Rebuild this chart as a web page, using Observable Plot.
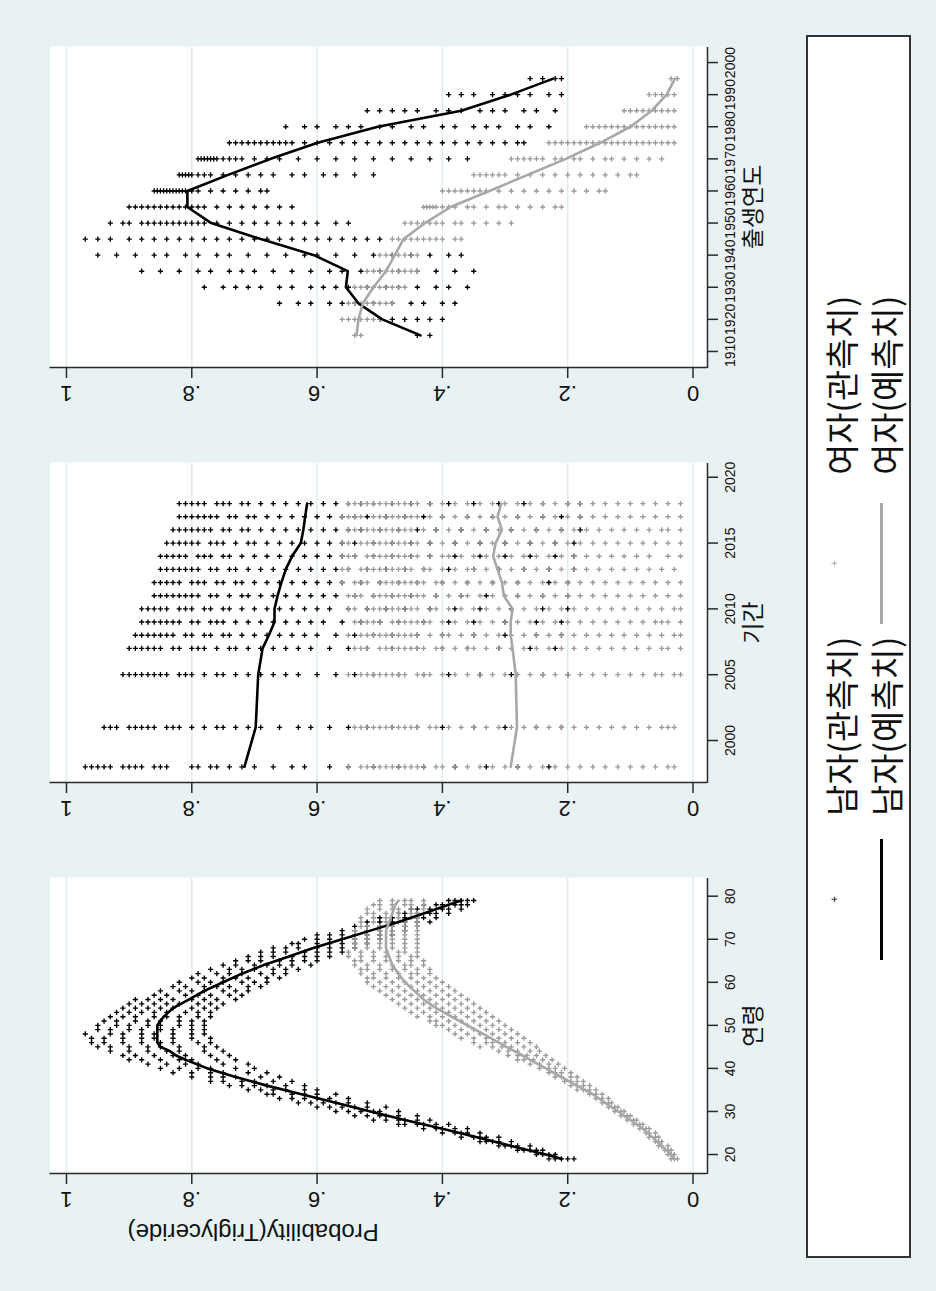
<!DOCTYPE html>
<html><head><meta charset="utf-8">
<script src="https://cdn.jsdelivr.net/npm/d3@7"></script>
<script src="https://cdn.jsdelivr.net/npm/@observablehq/plot@0.6"></script>
<style>
html,body{margin:0;padding:0;background:#e8f1f3;}
#page{position:relative;width:936px;height:1291px;overflow:hidden;background:#e8f1f3;}
#graph{position:absolute;left:0;top:0;width:1291px;height:936px;transform-origin:0 0;transform:translate(0px,1291px) rotate(-90deg);}
.panel{position:absolute;top:0;}
#legend{position:absolute;left:33px;top:806px;width:1223px;height:105px;box-sizing:border-box;border:2px solid #333;background:#fff;font-family:"Noto Sans CJK KR",sans-serif;}
.lg-text{position:absolute;font-size:34px;line-height:34px;color:#111;white-space:nowrap;}
.lg-line{position:absolute;height:3px;}
.lg-mark{position:absolute;font-family:"DejaVu Sans",sans-serif;font-size:9px;line-height:9px;}
</style></head>
<body><div id="page"><div id="graph"><div id="legend"></div></div></div>
<script>
// ---------------- data ----------------
const probTicks = [0, 0.2, 0.4, 0.6, 0.8, 1];
const probTickLabels = ["0", ".2", ".4", ".6", ".8", "1"];
const yTitle = "Probability(Triglyceride)";
const axisTitles = ["연령", "기간", "출생연도"];
const legendLabels = ["남자(관측치)", "여자(관측치)", "남자(예측치)", "여자(예측치)"];

// Age panel
const ageTicks = [20, 30, 40, 50, 60, 70, 80];
const ageList = [19,20,21,22,23,24,25,26,27,28,29,30,31,32,33,34,35,36,37,38,39,40,41,42,43,44,45,46,47,48,49,
  50,51,52,53,54,55,56,57,58,59,60,61,62,63,64,65,66,67,68,69,70,71,72,73,74,75,76,77,78,79];
const ageMenObsPct = [
  [19,20,21,22,23],[22,23,24,25],[24,25,26,27,28],[26,28,29,30,31],[29,31,32,33,34],[31,33,34,35,37],
  [34,36,37,38,40],[36,38,40,41,43],[39,41,43,44,46,47],[42,44,46,47,49,51],[44,47,49,50,52,54],
  [47,50,51,53,55,57],[49,52,54,56,58,60],[52,55,57,59,61,63],[55,58,60,62,64,66],[57,60,62,64,67,68],
  [60,62,65,67,69,71],[62,65,68,70,72,74],[64,67,70,72,75,77],[66,69,73,75,77,80],[68,71,75,77,80,83],
  [70,73,77,79,82,85],[71,75,79,81,84,87],[73,76,80,82,85,88,90],[74,77,81,83,86,89,91],[75,78,82,84,87,90,93],
  [76,78,82,85,87,90,93,95],[77,79,83,85,88,91,94,96],[77,80,83,86,88,91,94,96],[78,80,83,86,88,91,93,97],
  [78,80,83,85,88,90,93,95],[78,80,82,85,87,90,92,95],[78,80,82,85,87,89,92,94],[77,79,82,84,86,89,91,93],
  [77,79,81,84,86,88,90,92],[76,78,80,83,85,87,89,91],[75,77,79,82,84,86,88,90],[73,76,78,80,83,85,87,89],
  [72,74,77,79,81,84,86],[71,73,75,78,80,82,85],[69,71,74,76,78,81,83],[68,70,72,75,77,79,82],
  [66,68,71,73,75,78,80],[65,67,69,72,74,76,79],[63,65,67,70,72,74,77],[61,64,66,68,70,73,75],
  [60,62,64,66,69,71,73],[58,60,62,64,67,69,71],[56,58,60,62,65,67,69],[54,56,58,60,63,65,67],
  [52,54,56,58,60,63,64],[50,52,54,56,58,60,62],[48,50,52,54,56,58,60],[46,48,50,52,54,56],
  [44,46,48,50,52,54],[42,44,46,48,50,52],[41,43,44,46,48,50],[39,41,42,44,46,47],[37,39,40,42,44,45],
  [36,37,38,40,41,43],[35,36,37,38,39]
];
const ageWomenObsPct = [
  [2.5,3,3.5],[3,3.5,4],[3.5,4,4.5],[4,5,5.5],[5,5.5,6],[5.5,6,7],[6,7,7.5],[7,7.5,8.5],[8,8.5,9.5],[9,9.5,10.5],
  [10,10.5,11.5],[11,11.5,12.5],[12,12.5,13.5],[13,13.5,14.5],[13.5,14.5,15.5],[14.5,15.5,16.5],
  [15.5,16.5,17.5,18.5],[16.5,17.5,18.5,19.5],[17.5,18.5,19.5,20.5],[18.5,19.5,21,22],[19.5,21,22,23],
  [20.5,22,23,24.5],[21.5,23,24.5,26],[22.5,24,25.5,27,28],[23.5,25,26.5,28,29.5],[24.5,26,28,29.5,31],
  [25,27,29,30.5,32,34],[26,28,30,32,33,35],[27,29,31,33,35,37],[28,30,32,34,36,38],[29,31,33,35,37,39],
  [30,32,34,36,38,40,41],[31,33,35,37,39,41,42],[32,34,36,38,40,42,44],[33,35,37,39,41,43,45],
  [34,36,38,40,42,44,46],[35,37,39,41,43,45,47],[36,38,40,42,44,46,48],[37,39,41,43,45,47,49],
  [38,40,42,44,46,48,50],[39,41,43,45,47,49,51],[40,42,44,46,48,50,52],[41,43,45,47,49,51,52],
  [42,44,45,47,49,51,53],[42,44,46,48,50,52,53],[43,45,46,48,50,52,54],[43,45,47,49,51,53,54],
  [44,45,47,49,51,53,55],[44,46,47,49,51,53,55],[44,46,48,50,52,54],[44,46,48,50,52,54],[44,46,48,50,52,54],
  [44,46,48,50,52,54],[44,46,48,50,52,54],[44,46,48,50,52,53],[44,46,47,49,51,53],[44,45,47,49,51,53],
  [44,45,47,49,51,52],[43,45,47,48,50,52],[43,45,46,48,50,51],[43,45,46,48,50]
];
const ageFitAges = [19,20,22,24,26,28,30,32,34,36,38,40,42,43,44,45,46,48,50,52,54,56,58,60,62,64,66,68,70,72,74,76,78,79];
const ageMenFitPct = [21,23.5,29,34.5,40,46,51.5,57,62.5,68,73,77.5,81,82.5,83.5,85,85.5,85.5,85.5,84.5,83,80.5,78,75,72,68.5,64.5,60.5,56,51.5,47,43,39,37];
const ageWomenFitPct = [3,3.5,5,6.5,8,10,12,14,16,18.5,21,23.5,26,27.2,28.5,29.8,31,33.5,36,38.5,41,43,44.5,46,47,48,48.5,49,49,49,48.5,48,47.5,47];

// Period panel
const periodTicks = [2000, 2005, 2010, 2015, 2020];
const periodYears = [1998,2001,2005,2007,2008,2009,2010,2011,2012,2013,2014,2015,2016,2017,2018];
const periodMenObsPct = [
  [97,96,95,94,93,91,90,89,88,86,85,84,80,79,77,76,74,72,70,67,64,62,58,55,51,47,43,38,33,28,23],
  [94,93,92,90,89,88,87,86,84,83,82,80,78,76,75,73,71,69,66,63,61,58,55,52,48,44,40,35,30,25,21],
  [91,90,89,88,87,86,85,84,82,81,80,78,76,75,73,71,69,67,65,63,60,57,54,51,47,43,39,34,29,24,20],
  [90,89,88,87,86,85,83,82,80,79,78,76,74,73,71,69,67,65,63,61,58,55,52,48,44,40,36,31,26,22],
  [89,88,87,86,85,84,83,81,80,78,77,75,74,72,70,68,66,64,62,60,57,54,51,48,44,40,35,30,25,21],
  [88,87,86,85,84,83,82,80,79,77,76,75,73,71,69,67,65,63,61,59,56,53,50,47,43,39,35,30,25,21],
  [88,87,86,85,84,82,81,80,78,77,75,74,72,70,68,66,64,62,60,58,55,52,49,46,42,38,34,29,24,20],
  [86,85,84,83,82,81,80,79,77,76,74,72,71,69,67,65,63,61,59,57,54,51,48,45,41,37,33,28,24,20],
  [86,85,84,83,82,80,79,78,76,75,73,72,70,68,66,64,62,60,58,56,53,50,47,44,40,36,32,28,23,20],
  [85,84,83,82,81,80,79,77,76,74,73,71,69,67,65,63,61,59,57,55,52,49,46,43,39,35,31,27,23,19],
  [85,84,83,82,81,79,78,77,75,74,72,70,68,66,64,62,60,58,56,54,51,48,45,42,38,34,30,26,22,19],
  [84,83,82,81,80,79,77,76,75,73,71,70,68,66,64,62,60,58,56,54,51,48,45,42,38,34,30,26,22,19],
  [83,82,81,80,79,78,77,75,74,72,71,69,67,65,63,61,59,57,55,53,50,47,44,41,37,33,29,25,21,18],
  [82,81,80,79,78,77,76,74,73,71,70,68,66,64,62,60,58,56,54,52,49,46,43,40,36,32,28,24,21,18],
  [82,81,80,79,78,76,75,74,72,71,69,67,65,63,61,59,57,55,53,51,48,45,42,39,35,31,27,24,20,18]
];
const periodWomenObsPct = [
  [55,53,52,51,50,49,48,47,46,45,44,43,41,40,38,36,34,32,30,28,26,24,22,20,18,16,14,12,10,8,6,4,3],
  [54,53,52,51,50,49,48,47,46,45,44,42,41,39,37,35,33,31,29,27,25,23,21,19,17,15,13,11,9,7,5,4,3],
  [55,53,52,51,50,49,48,47,46,44,43,42,40,38,36,34,32,30,28,26,24,22,20,18,16,14,12,10,8,6,5,3,2],
  [54,53,52,50,49,48,47,46,45,44,43,41,40,38,36,35,33,31,29,27,25,23,21,19,17,15,13,11,9,7,5,4,2],
  [55,53,52,51,50,49,48,47,46,45,44,42,40,39,37,35,33,31,29,27,25,23,21,19,17,15,13,11,9,7,5,3,2],
  [54,53,52,51,50,48,47,46,45,44,43,42,40,38,36,34,32,30,28,26,24,22,20,18,16,14,12,10,8,6,5,4,2],
  [55,54,52,51,50,49,48,47,46,45,44,42,41,39,37,35,33,31,29,27,25,23,21,19,17,15,13,11,9,7,5,3,2],
  [55,54,53,51,50,49,48,47,46,45,44,43,41,39,37,36,34,32,30,28,26,24,22,20,18,16,14,12,10,8,6,4,2],
  [56,54,53,52,50,49,48,47,46,45,44,43,41,40,38,36,34,32,30,28,26,24,22,20,18,16,14,12,10,8,6,4,2],
  [56,55,53,52,51,50,49,48,47,46,45,43,42,40,38,36,35,33,31,29,27,25,23,21,19,17,15,13,11,9,7,5,3],
  [56,55,54,52,51,50,49,48,47,46,45,44,42,40,39,37,35,33,31,29,27,25,23,21,19,17,15,13,11,9,7,4,2],
  [56,55,53,52,51,50,49,48,47,46,45,44,42,40,38,36,34,32,30,28,26,24,22,20,18,16,14,12,10,8,6,4,2],
  [55,54,53,52,51,50,49,48,47,46,45,43,41,39,37,35,33,31,29,27,25,23,21,19,17,15,13,11,9,7,5,4,2],
  [56,55,54,53,51,50,49,48,47,46,45,44,42,40,38,36,34,32,30,28,26,24,22,20,18,16,14,12,10,8,6,4,2],
  [55,54,53,52,51,50,49,48,47,46,45,44,42,40,38,36,34,32,30,28,26,24,22,20,18,16,14,12,10,8,6,4,2]
];
const periodMenFitPct = [71.6,69.8,69.4,68.7,67.7,66.8,66.8,66.3,65.7,65,64,62.6,62.2,61.9,61.6];
const periodWomenFitPct = [29.1,28.1,28.3,28.8,29.1,29.1,28.8,30.2,30.5,31.2,31.9,31.5,30.5,31.2,30.6];

// Birth-cohort panel
const cohortTicks = [1910,1920,1930,1940,1950,1960,1970,1980,1990,2000];
const cohortYears = [1915,1920,1925,1930,1935,1940,1945,1950,1955,1960,1965,1970,1975,1980,1985,1990,1995];
const cohortMenObsPct = [
  [44,42],
  [50,48,46,44,42,40],
  [66,63,61,58,56,54,51,48,45,43,40,38],
  [78,75,73,71,69,66,64,61,59,57,55,52,49,47,44,41,39,36],
  [88,85,82,79,77,74,72,70,67,64,61,58,56,53,50,47,44,41,38,35],
  [95,92,89,86,84,81,79,76,74,71,68,65,62,60,57,54,51,48,45,42,39,37],
  [97,95,93,90,88,86,84,82,80,78,76,74,72,70,68,66,64,62,60,58,56,54,52,50],
  [93,91,90,88,87,86,85,84,83,82,81,80,79,78,76,74,72,70,68,66,64,62,60,57,55],
  [90,89,88,87,86,85,84,83,82,81,80,79,78,76,74,72,70,68,66,64],
  [86,85.5,85,84.5,84,83.5,83,82.5,82,81.5,81,80,79,77,75,73,71,69,68],
  [82,81.5,81,80.5,80,79,78,77,75,73,71,69,67,64,62,59,57,54,51],
  [79,78.5,78,77.5,77,76.5,76,75,74,73,72,70,68,66,63,60,57,54,51,48,45,42,39,36],
  [74,73,72,71,70,69,68,67,66,65,64,62,60,58,56,54,52,50,48,46,44,42,40,38,36,34,32,30,28,27],
  [65,62,60,57,55,53,50,48,45,43,40,38,35,33,31,28,26,23],
  [52,50,48,46,44,41,39,37,34,32,30,27,25,22],
  [39,37,35,32,30,28,26,23,21],
  [26,24,22,21]
];
const cohortWomenObsPct = [
  [54,53],
  [56,55,54,53,52,51,50],
  [55,54,53,52,51,50,49,48],
  [54,53,52,51,50,49,48,47,46],
  [52,51,50,49,48,47,46,45,44],
  [50,49,48,47,46,45,44],
  [48,47,46,45,44,43,42,41,40,38,37],
  [46,45,44,43,42,41,40,38,37,35,33,31,29],
  [43,42.5,42,41.5,41,40,39,38,36,35,33,31,30,28,26,24,22,21],
  [40,39,38,37,36,35,34,33,31,29,27,25,23,21,19,17,15,14],
  [35,34,33,32,31,30,28,26,24,22,20,18,16,14,12,10,9],
  [29,28,27,26,25,24,22,21,19,18,16,14,13,11,9,7,5],
  [23,22,21,20,19,18,17,16,15,14,13,12,11,10,9,8,7,6,5,4,3],
  [17,16,15,14,13,12,11,10,9,8,7,6,5,4,3],
  [11,10,9,8,7,6,5,4,3],
  [7,6,5,4,3],
  [3.5,2.5]
];
const cohortMenFitPct = [43.5,49.6,53.4,55.4,55.1,60.5,69,76.9,80.7,80.7,74.2,67.4,59.9,50.3,37,29.1,22.3];
const cohortWomenFitPct = [53.7,53.4,52.7,51,49,47.6,46.2,42.8,38.7,32.5,26.4,20.3,14.8,10,6.6,4.2,2.9];

// ---------------- drawing ----------------
const FONT = '"Liberation Sans", Arial, "Noto Sans CJK KR", sans-serif';
const GRID = "#e1ecef", AXIS = "#2a2a2a", INK = "#111";
const MEN = "#000000", WOMEN_PT = "#9a9a9a", WOMEN_LINE = "#a8a8a8";
const yDomain = [-0.0231, 1.0263];

function flatObs(keys, lists) {
  const out = [];
  keys.forEach((k, i) => lists[i].forEach(v => out.push({x: k, p: v / 100})));
  return out;
}
function fitRows(keys, vals) { return keys.map((k, i) => ({x: k, p: vals[i] / 100})); }

function panel(o) {
  const H = 790;
  const marks = [
    Plot.frame({fill: "white", stroke: null}),
    Plot.ruleY(probTicks, {stroke: GRID, strokeWidth: 1.6}),
    Plot.dot(o.menObs, {x: "x", y: "p", symbol: "plus", r: 1.8, stroke: MEN, strokeWidth: 1.35}),
    Plot.dot(o.womenObs, {x: "x", y: "p", symbol: "plus", r: 1.8, stroke: WOMEN_PT, strokeWidth: 1.35}),
    Plot.line(o.menFit, {x: "x", y: "p", stroke: MEN, strokeWidth: 2.6}),
    Plot.line(o.womenFit, {x: "x", y: "p", stroke: WOMEN_LINE, strokeWidth: 2.6}),
    Plot.ruleX([o.xDomain[0]], {stroke: AXIS, strokeWidth: 1.5}),
    Plot.ruleY([yDomain[0]], {stroke: AXIS, strokeWidth: 1.5}),
    Plot.axisY({ticks: probTicks, tickSize: 10, tickFormat: () => "", label: null, stroke: AXIS, strokeWidth: 1.5}),
    Plot.text(probTicks, {y: d => d, frameAnchor: "left", dx: -26, rotate: -90, text: (d, i) => probTickLabels[i],
      fontSize: 22, fill: INK, textAnchor: "middle", lineAnchor: "middle"}),
    Plot.axisX({ticks: o.xTicks, tickSize: 11, tickPadding: 7, tickFormat: d => String(d), fontSize: 14,
      label: null, stroke: AXIS, strokeWidth: 1.5, fill: INK}),
    Plot.text([o.title], {frameAnchor: "bottom", dy: 46, fontSize: 23, fill: INK, lineAnchor: "middle"})
  ];
  if (o.yTitle) marks.push(Plot.text([o.yTitle], {frameAnchor: "left", dx: -58, rotate: -90, fontSize: 24, fill: INK, lineAnchor: "middle"}));
  const svg = Plot.plot({
    width: o.width, height: H,
    marginLeft: o.frameL - o.left, marginRight: o.left + o.width - o.frameR,
    marginTop: 49.5, marginBottom: H - 707,
    x: {domain: o.xDomain}, y: {domain: yDomain},
    style: {background: "transparent", fontFamily: FONT, overflow: "visible"},
    marks
  });
  const div = document.createElement("div");
  div.className = "panel";
  div.style.left = o.left + "px";
  div.style.width = o.width + "px";
  div.appendChild(svg);
  document.getElementById("graph").insertBefore(div, document.getElementById("legend"));
}

panel({left: 0, width: 440, frameL: 117, frameR: 413, xDomain: [15.59, 84.34], xTicks: ageTicks, title: axisTitles[0], yTitle,
  menObs: flatObs(ageList, ageMenObsPct), womenObs: flatObs(ageList, ageWomenObsPct),
  menFit: fitRows(ageFitAges, ageMenFitPct), womenFit: fitRows(ageFitAges, ageWomenFitPct)});
panel({left: 440, width: 420, frameL: 508, frameR: 828, xDomain: [1996.81, 2021.12], xTicks: periodTicks, title: axisTitles[1],
  menObs: flatObs(periodYears, periodMenObsPct), womenObs: flatObs(periodYears, periodWomenObsPct),
  menFit: fitRows(periodYears, periodMenFitPct), womenFit: fitRows(periodYears, periodWomenFitPct)});
panel({left: 860, width: 431, frameL: 923, frameR: 1244, xDomain: [1905, 2005], xTicks: cohortTicks, title: axisTitles[2],
  menObs: flatObs(cohortYears, cohortMenObsPct), womenObs: flatObs(cohortYears, cohortWomenObsPct),
  menFit: fitRows(cohortYears, cohortMenFitPct), womenFit: fitRows(cohortYears, cohortWomenFitPct)});

// legend (2 columns x 2 rows, as in the original)
const lg = document.getElementById("legend");
const items = [
  {label: legendLabels[0], kind: "mark", color: MEN, col: 0, row: 0},
  {label: legendLabels[1], kind: "mark", color: WOMEN_PT, col: 1, row: 0},
  {label: legendLabels[2], kind: "line", color: MEN, col: 0, row: 1},
  {label: legendLabels[3], kind: "line", color: WOMEN_LINE, col: 1, row: 1}
];
const colKey = [296, 632], colText = [440, 781], rowKeyY = [27, 73], rowTextY = [16, 61];
items.forEach(it => {
  if (it.kind === "line") {
    const s = document.createElement("div");
    s.className = "lg-line";
    s.style.left = colKey[it.col] + "px"; s.style.width = "121px";
    s.style.top = (rowKeyY[it.row] - 1.5) + "px"; s.style.background = it.color;
    lg.appendChild(s);
  } else {
    const s = document.createElement("div");
    s.className = "lg-mark"; s.textContent = "+";
    s.style.color = it.color;
    s.style.left = (colKey[it.col] + 57) + "px"; s.style.top = (rowKeyY[it.row] - 5) + "px";
    lg.appendChild(s);
  }
  const t = document.createElement("div");
  t.className = "lg-text"; t.textContent = it.label;
  t.style.left = colText[it.col] + "px"; t.style.top = rowTextY[it.row] + "px";
  lg.appendChild(t);
});
</script></body></html>
